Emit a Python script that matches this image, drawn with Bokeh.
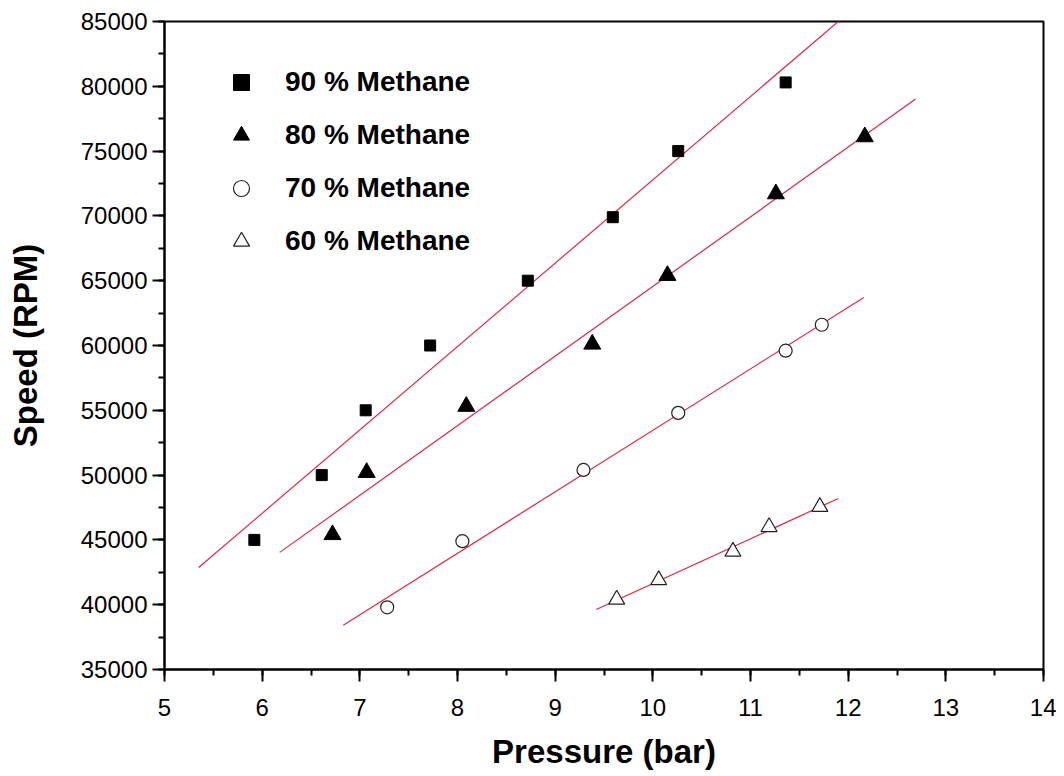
import numpy as np
from bokeh.plotting import figure
from bokeh.models import (Legend, LegendItem, SingleIntervalTicker, Range1d)
from bokeh.embed import file_html
from bokeh.resources import INLINE

# ---- data ----
x90 = [5.92, 6.61, 7.06, 7.72, 8.72, 9.59, 10.26, 11.36]
y90 = [45000, 50000, 55000, 60000, 65000, 69900, 75000, 80300]

x80 = [6.72, 7.07, 8.09, 9.38, 10.15, 11.26, 12.17]
y80 = [45400, 50200, 55300, 60100, 65400, 71700, 76100]

x70 = [7.28, 8.05, 9.29, 10.26, 11.36, 11.73]
y70 = [39800, 44900, 50400, 54800, 59600, 61600]

x60 = [9.63, 10.06, 10.82, 11.19, 11.71]
y60 = [40400, 41900, 44100, 46000, 47550]

labels = ["90 % Methane", "80 % Methane", "70 % Methane", "60 % Methane"]
# x extent of each linear-fit line
fit_start = [5.35, 6.18, 6.83, 9.42]
fit_end = [12.0, 12.69, 12.16, 11.90]

x_ticks_interval = 1
y_ticks_interval = 5000

FONT = "Liberation Sans"
RED = "#dc2846"

p = figure(frame_width=879, frame_height=648,
           min_border_left=164, min_border_top=21, min_border_right=13, min_border_bottom=95,
           x_range=Range1d(5, 14), y_range=Range1d(35000, 85000),
           output_backend="svg", toolbar_location=None,
           background_fill_color="white", border_fill_color="white")

p.xgrid.visible = False
p.ygrid.visible = False
p.outline_line_color = "black"
p.outline_line_width = 2
p.outline_line_alpha = 1

p.xaxis.ticker = SingleIntervalTicker(interval=x_ticks_interval, num_minor_ticks=2)
p.yaxis.ticker = SingleIntervalTicker(interval=y_ticks_interval, num_minor_ticks=2)

for ax in (p.xaxis[0], p.yaxis[0]):
    ax.axis_line_width = 2
    ax.axis_line_color = "black"
    ax.major_tick_line_width = 2
    ax.minor_tick_line_width = 2
    ax.major_tick_out = 12
    ax.major_tick_in = 0
    ax.minor_tick_out = 6
    ax.minor_tick_in = 0
    ax.major_label_text_font = FONT
    ax.major_label_text_font_size = "24px"
    ax.major_label_text_color = "black"
    ax.axis_label_text_font = FONT
    ax.axis_label_text_font_style = "bold"
    ax.axis_label_text_font_size = "33px"
    ax.axis_label_text_color = "black"

p.xaxis.axis_label = "Pressure (bar)"
p.yaxis.axis_label = "Speed (RPM)"
p.xaxis.major_label_standoff = 17
p.xaxis.axis_label_standoff = 14
p.yaxis.major_label_standoff = 5
p.yaxis.axis_label_standoff = 34

# fit lines
series = [(x90, y90), (x80, y80), (x70, y70), (x60, y60)]
for (xs, ys), xa, xb in zip(series, fit_start, fit_end):
    k, b = np.polyfit(np.array(xs, dtype=float), np.array(ys, dtype=float), 1)
    lx = np.array([xa, xb])
    p.line(lx, k * lx + b, line_color=RED, line_width=1.2)

r90 = p.scatter(x90, y90, marker="square", size=11, fill_color="black", line_color="black")
r80 = p.scatter(x80, y80, marker="triangle", size=17, fill_color="black", line_color="black")
r70 = p.scatter(x70, y70, marker="circle", size=13, fill_color="white", line_color="#222222", line_width=1.2)
r60 = p.scatter(x60, y60, marker="triangle", size=16, fill_color="white", line_color="#222222", line_width=1.2)

legend = Legend(items=[LegendItem(label=l, renderers=[r]) for l, r in zip(labels, [r90, r80, r70, r60])],
                location=(57, 408), padding=0, margin=0, spacing=13,
                glyph_width=40, glyph_height=40, label_height=40, label_standoff=24,
                border_line_alpha=0, background_fill_alpha=0,
                label_text_font=FONT, label_text_font_style="bold",
                label_text_font_size="28px", label_text_color="black")
p.add_layout(legend, "center")

open("out.html", "w").write(file_html(p, INLINE))
